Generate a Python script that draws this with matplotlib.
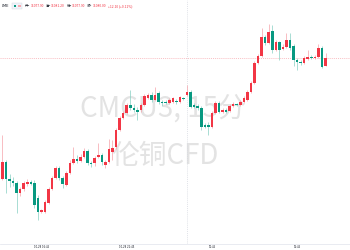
import matplotlib
matplotlib.use("Agg")
import matplotlib.pyplot as plt
from matplotlib.patches import Rectangle

# 15 minute candles
opens = [11049.75, 11054.0, 11049.75, 11049.25, 11048.75, 11046.25, 11047.25, 11048.5, 11049.0, 11048.75,
         11045.0, 11041.5, 11041.5, 11043.75, 11047.25, 11050.0, 11052.5, 11050.0, 11048.25, 11051.25,
         11053.75, 11054.75, 11054.25, 11055.25, 11056.75, 11053.75, 11053.75, 11055.25, 11055.75, 11053.25,
         11054.0, 11056.5, 11057.75, 11062.0, 11065.0, 11066.25, 11068.25, 11067.5, 11067.0, 11067.0,
         11068.25, 11070.0, 11070.75, 11069.5, 11071.25, 11069.0, 11069.0, 11068.75, 11069.0, 11069.25,
         11069.0, 11070.0,
         11070.75, 11071.5, 11068.25, 11068.0, 11067.5, 11063.25, 11063.25, 11062.75, 11066.25, 11068.75,
         11066.5, 11067.0, 11066.75, 11068.0, 11068.5, 11068.25, 11069.0, 11069.5, 11071.5, 11073.75,
         11078.75, 11080.5, 11085.25, 11083.75, 11086.75, 11082.0, 11084.0, 11082.25, 11082.75, 11084.5,
         11083.0, 11079.5, 11079.0, 11078.75, 11079.75, 11080.25, 11080.0, 11080.25, 11082.5, 11077.9]
highs = [11060.75, 11054.5, 11051.0, 11050.25, 11049.25, 11047.75, 11049.25, 11049.75, 11049.5, 11049.5,
         11045.75, 11042.25, 11044.5, 11047.75, 11050.5, 11053.0, 11053.0, 11050.5, 11051.75, 11054.5,
         11057.75, 11055.75, 11056.0, 11057.5, 11057.25, 11054.25, 11055.5, 11058.75, 11056.25, 11054.5,
         11059.75, 11059.5, 11062.5, 11065.5, 11066.75, 11068.75, 11072.0, 11068.5, 11067.75, 11068.75,
         11071.0, 11071.25, 11071.5, 11072.75, 11071.75, 11069.5, 11069.5, 11070.0, 11070.25, 11069.75,
         11070.5, 11070.25,
         11073.25, 11072.0, 11068.75, 11068.5, 11068.0, 11063.75, 11064.0, 11066.75, 11069.25, 11069.25,
         11067.5, 11067.5, 11068.5, 11069.0, 11068.75, 11069.5, 11070.5, 11072.0, 11074.25, 11079.25,
         11081.0, 11087.5, 11085.75, 11088.5, 11088.25, 11084.5, 11084.25, 11083.5, 11086.25, 11086.25,
         11083.5, 11080.0, 11079.5, 11080.5, 11082.0, 11080.75, 11080.75, 11083.5, 11083.0, 11081.2]
lows = [11049.5, 11046.25, 11047.75, 11048.0, 11041.25, 11045.5, 11046.75, 11048.0, 11048.25, 11042.5,
        11039.5, 11041.25, 11041.25, 11043.5, 11047.0, 11049.75, 11049.5, 11047.5, 11048.0, 11051.0,
        11053.5, 11053.75, 11054.0, 11055.0, 11053.25, 11052.75, 11053.0, 11055.0, 11053.25, 11052.5,
        11053.75, 11054.5, 11057.25, 11061.75, 11064.75, 11066.0, 11067.0, 11066.5, 11064.5, 11066.5,
        11068.0, 11069.75, 11069.0, 11069.25, 11068.5, 11068.0, 11068.5, 11068.5, 11068.75, 11068.5,
        11068.75, 11069.5,
        11070.5, 11067.5, 11067.5, 11067.0, 11062.0, 11062.5, 11060.75, 11062.5, 11066.0, 11066.25,
        11066.25, 11066.25, 11066.5, 11067.75, 11068.0, 11068.0, 11068.75, 11069.25, 11071.25, 11073.5,
        11078.5, 11080.25, 11083.25, 11083.5, 11081.25, 11081.75, 11079.5, 11082.0, 11082.5, 11082.0,
        11078.0, 11077.0, 11078.25, 11078.5, 11079.5, 11079.75, 11079.75, 11080.0, 11077.5, 11077.9]
closes = [11054.0, 11049.75, 11049.25, 11048.75, 11046.25, 11047.25, 11048.75, 11049.0, 11048.5, 11043.25,
          11041.5, 11042.0, 11044.0, 11047.25, 11050.0, 11052.5, 11050.0, 11048.5, 11051.25, 11053.75,
          11054.75, 11054.25, 11055.25, 11056.75, 11053.75, 11053.5, 11055.0, 11055.75, 11054.0, 11054.0,
          11057.25, 11057.5, 11062.0, 11065.0, 11066.25, 11068.25, 11067.5, 11067.0, 11066.5, 11068.25,
          11070.5, 11070.75, 11069.5, 11070.75, 11069.0, 11068.75, 11068.75, 11069.5, 11070.0, 11069.0,
          11070.25, 11069.75,
          11071.5, 11067.75, 11067.75, 11067.5, 11062.75, 11062.75, 11062.75, 11066.25, 11068.75, 11066.5,
          11067.0, 11066.5, 11068.0, 11068.5, 11068.25, 11069.0, 11070.0, 11071.5, 11073.75, 11078.75,
          11080.5, 11085.25, 11083.75, 11086.5, 11082.0, 11084.0, 11082.0, 11082.75, 11084.5, 11082.5,
          11079.5, 11079.0, 11078.75, 11080.0, 11080.25, 11080.0, 11080.25, 11082.5, 11077.75, 11080.0]

time_ticks = [11, 35, 59, 83]
time_labels = ["10-28 16:45", "10-28 22:45", "10:45", "16:45"]
day_break = 52
last_price = 11080.0

symbol = "LME"
header_names = ["开", "高", "低", "收"]
header_values = ["11077.90", "11081.20", "11077.90", "11080.00"]
header_change = "+12.10 (+0.11%)"
watermark = ["CMCU3, 15分", "伦铜CFD"]

UP = "#f23645"
DOWN = "#089981"
UP_WICK = "#f5a3aa"
DOWN_WICK = "#86cfc2"
CJK = ["Noto Sans CJK SC", "DejaVu Sans"]

fig = plt.figure(figsize=(3.5, 2.5), dpi=100)
fig.patch.set_facecolor("white")
ax = fig.add_axes([0, 6 / 250, 1, 244 / 250])
ax.set_xlim(-0.68, 97.9)
ax.set_ylim(11033.5, 11094.5)

# watermark
ax.text(0.465, 0.555, watermark[0], transform=ax.transAxes, ha="center", va="center",
        fontsize=20, color="#e3e3e3", family=CJK, zorder=0)
ax.text(0.47, 0.36, watermark[1], transform=ax.transAxes, ha="center", va="center",
        fontsize=20, color="#e3e3e3", family=CJK, zorder=0)

# day separator and last price line
ax.axvline(day_break, color="#d6d9e0", lw=0.5, ls=(0, (1.5, 1.5)), zorder=1)
ax.axhline(last_price, color="#f7a8ae", lw=0.5, ls=(0, (1.5, 1.5)), zorder=1)

x = list(range(len(opens)))
up = [c >= o for o, c in zip(opens, closes)]
ax.vlines(x, lows, highs, colors=[UP_WICK if u else DOWN_WICK for u in up], lw=0.5, zorder=2)
bottoms = [min(o, c) for o, c in zip(opens, closes)]
heights = [max(abs(c - o), 0.3) for o, c in zip(opens, closes)]
ax.bar(x, heights, bottom=bottoms, width=0.72, color=[UP if u else DOWN for u in up],
       linewidth=0, zorder=3)

for s in ["top", "left", "right"]:
    ax.spines[s].set_visible(False)
ax.spines["bottom"].set_color("#e0e3eb")
ax.spines["bottom"].set_linewidth(0.5)
ax.set_yticks([])
ax.set_xticks(time_ticks)
ax.set_xticklabels(time_labels, fontsize=1.8, color="#131722")
ax.tick_params(axis="x", length=0, pad=0.8)

# header line
hy = 1 - 6 / 250
fig.text(2 / 350, hy, symbol, fontsize=2.6, color="#131722", va="center", ha="left")
fig.patches.append(Rectangle((12 / 350, hy - 2.5 / 250), 10 / 350, 5 / 250, transform=fig.transFigure,
                             facecolor="#f0f3fa", edgecolor="#d1d4dc", lw=0.3))
fig.patches.append(Rectangle((13.5 / 350, hy - 1.3 / 250), 2.6 / 350, 2.6 / 250, transform=fig.transFigure,
                             facecolor=DOWN, edgecolor="none"))
fig.patches.append(Rectangle((18 / 350, hy - 1.3 / 250), 2.6 / 350, 2.6 / 250, transform=fig.transFigure,
                             facecolor="#f7a8ae", edgecolor="none"))

# chain the header pieces one after another
prev = fig.text(25 / 350, hy, header_names[0] + "=", fontsize=2.4, color="#131722",
                va="center", ha="left", family=CJK)
pieces = []
for i, (n, v) in enumerate(zip(header_names, header_values)):
    if i > 0:
        pieces.append((n + "=", "#131722", 1.2))
    pieces.append((v, UP, 0.2))
pieces.append((header_change, UP, 1.2))
for s, c, gap in pieces:
    prev = ax.annotate(s, xy=(1, 0.5), xycoords=prev, xytext=(gap, 0), textcoords="offset points",
                       fontsize=2.4, color=c, va="center", ha="left", family=CJK,
                       annotation_clip=False)

fig.savefig("out.png", dpi=100, facecolor="white")
